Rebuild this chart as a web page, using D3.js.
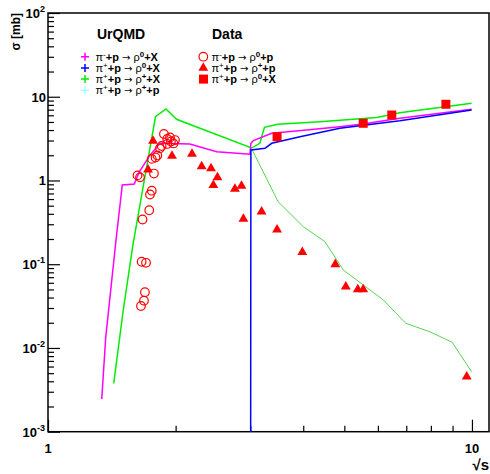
<!DOCTYPE html>
<html>
<head>
<meta charset="utf-8">
<script src="https://cdn.jsdelivr.net/npm/d3@7"></script>
<style>
  body { margin: 0; background: #fff; }
  text { font-family: "Liberation Sans", Arial, sans-serif; }
</style>
</head>
<body>
<svg id="chart" width="490" height="474"></svg>
<script>
// UrQMD curves: sqrt(s) in GeV, sigma in mb
var magentaS   = [1.339, 1.368, 1.447, 1.497, 1.598, 1.642, 1.74, 1.837, 2.16, 2.50, 2.995, 3.01, 3.05, 3.37, 4.07, 4.88, 5.53, 6.76, 9.98];
var magentaSig = [0.00246, 0.0133, 0.195, 0.883, 0.908, 1.27, 2.01, 2.78, 2.73, 2.21, 2.06, 2.78, 2.99, 3.66, 4.01, 4.39, 4.72, 5.52, 7.08];

var blueS   = [3.004, 3.01, 3.25, 3.37, 3.93, 4.88, 6.76, 9.98];
var blueSig = [0.00001, 2.31, 2.42, 2.78, 3.33, 4.20, 5.17, 6.95];

var greenS   = [1.429, 1.505, 1.586, 1.793, 1.898, 2.01, 3.02, 3.16, 3.24, 3.48, 4.38, 5.96, 6.76, 9.98];
var greenSig = [0.00378, 0.0284, 0.170, 5.78, 7.14, 5.38, 2.44, 2.78, 4.31, 4.69, 5.04, 5.65, 6.44, 8.35];

var paleS   = [3.02, 3.49, 4.00, 4.50, 4.97, 6.18, 6.98, 7.96, 8.98, 9.98];
var paleSig = [2.41, 0.558, 0.281, 0.186, 0.0853, 0.0374, 0.0197, 0.0156, 0.0117, 0.00521];

// Data points
var circS   = [1.877, 1.911, 1.940, 1.977, 1.911, 1.854, 1.837, 1.811, 1.793, 1.757, 1.778, 1.626, 1.648, 1.757, 1.740, 1.733, 1.671, 1.663, 1.703, 1.693, 1.684, 1.657, 1.993, 1.950];
var circSig = [3.59, 3.13, 3.26, 2.77, 2.73, 2.58, 2.42, 1.99, 1.88, 1.81, 1.21, 1.15, 1.09, 0.755, 0.680, 0.441, 0.342, 0.107, 0.104, 0.0463, 0.0367, 0.0317, 3.04, 2.92];

var triS   = [1.769, 1.722, 1.961, 2.186, 2.304, 2.424, 2.51, 2.455, 2.76, 2.86, 2.89, 3.19, 3.47, 3.98, 4.76, 5.04, 5.38, 5.54, 9.72];
var triSig = [2.96, 1.35, 1.96, 2.07, 1.47, 1.39, 1.09, 0.879, 0.791, 0.859, 0.347, 0.424, 0.258, 0.139, 0.0998, 0.054, 0.0501, 0.0501, 0.00454];

var sqS   = [3.47, 5.54, 6.47, 8.68];
var sqSig = [3.33, 4.82, 6.05, 8.13];

var yDecades = [1e-3, 1e-2, 1e-1, 1, 10, 100];
var yLabels  = [["10", "-3"], ["10", "-2"], ["10", "-1"], ["1", ""], ["10", ""], ["10", "2"]];

var svg = d3.select('#chart');
var padL = 48, padR = 489, padT = 13, padB = 431.7;

var x = d3.scaleLog().domain([1, 10.97]).range([padL, padR]);
var y = d3.scaleLog().domain([1e-3, 1e2]).range([padB, padT]);

function zip(a, b) { return a.map(function(v, i) { return [v, b[i]]; }); }

svg.append('clipPath').attr('id', 'clip')
  .append('rect').attr('x', padL).attr('y', padT)
  .attr('width', padR - padL).attr('height', padB - padT);

// Frame
svg.append('rect')
  .attr('x', padL).attr('y', padT)
  .attr('width', padR - padL).attr('height', padB - padT)
  .attr('fill', 'none').attr('stroke', '#000').attr('stroke-width', 1.5);

// Ticks (inward, ROOT style)
var xMinor = [2, 3, 4, 5, 6, 7, 8, 9];
svg.append('g').attr('transform', 'translate(0,' + padB + ')')
  .call(d3.axisBottom(x).tickValues(xMinor).tickSize(-6).tickFormat(''))
  .call(function(g) { g.select('.domain').remove(); });
svg.append('g').attr('transform', 'translate(0,' + padB + ')')
  .call(d3.axisBottom(x).tickValues([1, 10]).tickSize(-12).tickFormat(''))
  .call(function(g) { g.select('.domain').remove(); });

var yMinor = [];
yDecades.slice(0, 5).forEach(function(d) {
  for (var k = 2; k <= 9; k++) yMinor.push(d * k);
});
svg.append('g').attr('transform', 'translate(' + padL + ',0)')
  .call(d3.axisLeft(y).tickValues(yMinor).tickSize(-6).tickFormat(''))
  .call(function(g) { g.select('.domain').remove(); });
svg.append('g').attr('transform', 'translate(' + padL + ',0)')
  .call(d3.axisLeft(y).tickValues(yDecades).tickSize(-12).tickFormat(''))
  .call(function(g) { g.select('.domain').remove(); });
svg.selectAll('.tick line').attr('stroke', '#000').attr('stroke-width', 1.2);

// Tick labels
yDecades.forEach(function(d, i) {
  var t = svg.append('text')
    .attr('x', yLabels[i][1] ? 45 : 46).attr('y', y(d) + 5)
    .attr('text-anchor', 'end')
    .attr('font-size', 13).attr('font-weight', 'bold');
  t.append('tspan').text(yLabels[i][0]);
  if (yLabels[i][1]) t.append('tspan').attr('dy', -6).attr('font-size', 9).text(yLabels[i][1]);
});
[1, 10].forEach(function(d) {
  svg.append('text').attr('x', x(d)).attr('y', 453)
    .attr('text-anchor', 'middle')
    .attr('font-size', 13).attr('font-weight', 'bold').text(d);
});

// Axis titles
svg.append('text').attr('x', 489).attr('y', 470)
  .attr('text-anchor', 'end').attr('font-size', 15).attr('font-weight', 'bold')
  .text('\u221As');
svg.append('text')
  .attr('transform', 'translate(20,13) rotate(-90)')
  .attr('text-anchor', 'end').attr('font-size', 12).attr('font-weight', 'bold')
  .text('\u03C3 [mb]');

// Curves
var line = d3.line().x(function(d) { return x(d[0]); }).y(function(d) { return y(d[1]); });
var plot = svg.append('g').attr('clip-path', 'url(#clip)');

plot.append('path').attr('d', line(zip(paleS, paleSig)))
  .attr('fill', 'none').attr('stroke', '#59d454').attr('stroke-width', 1);
plot.append('path').attr('d', line(zip(greenS, greenSig)))
  .attr('fill', 'none').attr('stroke', '#00ee00').attr('stroke-width', 1.5);
plot.append('path').attr('d', line(zip(magentaS, magentaSig)))
  .attr('fill', 'none').attr('stroke', '#ff00ff').attr('stroke-width', 1.5);
plot.append('path').attr('d', line(zip(blueS, blueSig)))
  .attr('fill', 'none').attr('stroke', '#0000ff').attr('stroke-width', 1.5);

// Data markers
plot.selectAll('circle.open').data(zip(circS, circSig)).enter()
  .append('circle').attr('class', 'open')
  .attr('cx', function(d) { return x(d[0]); })
  .attr('cy', function(d) { return y(d[1]); })
  .attr('r', 4.3).attr('fill', 'none').attr('stroke', '#ff0000').attr('stroke-width', 1.2);

var tri = d3.symbol().type(d3.symbolTriangle).size(42);
plot.selectAll('path.tri').data(zip(triS, triSig)).enter()
  .append('path').attr('class', 'tri')
  .attr('d', tri)
  .attr('transform', function(d) { return 'translate(' + x(d[0]) + ',' + y(d[1]) + ')'; })
  .attr('fill', '#ff0000');

plot.selectAll('rect.sq').data(zip(sqS, sqSig)).enter()
  .append('rect').attr('class', 'sq')
  .attr('x', function(d) { return x(d[0]) - 4.5; })
  .attr('y', function(d) { return y(d[1]) - 4.5; })
  .attr('width', 9).attr('height', 9).attr('fill', '#ff0000');

// Legend
svg.append('text').attr('x', 97).attr('y', 39)
  .attr('font-size', 14).attr('font-weight', 'bold').text('UrQMD');
svg.append('text').attr('x', 212).attr('y', 39)
  .attr('font-size', 14).attr('font-weight', 'bold').text('Data');

function reaction(g, tx, ty, piCharge, rhoCharge, fin) {
  var t = g.append('text').attr('x', tx).attr('y', ty).attr('font-size', 11);
  t.append('tspan').text('\u03C0');
  t.append('tspan').attr('dy', -4).attr('font-size', 8).text(piCharge);
  t.append('tspan').attr('dy', 4).attr('font-weight', 'bold').text('+p ');
  t.append('tspan').style('font-family', 'DejaVu Sans').attr('font-size', 10).text('\u2192');
  t.append('tspan').text(' \u03C1');
  t.append('tspan').attr('dy', -4).attr('font-size', 8).attr('font-weight', 'bold').text(rhoCharge);
  t.append('tspan').attr('dy', 4).attr('font-weight', 'bold').text('+' + fin);
}

var urLeg = [
  { c: '#ff00ff', pi: '-', rho: '0', f: 'X' },
  { c: '#0000ff', pi: '+', rho: '0', f: 'X' },
  { c: '#00ee00', pi: '+', rho: '+', f: 'X' },
  { c: '#a8ffff', pi: '+', rho: '+', f: 'p' }
];
var leg = svg.append('g');
urLeg.forEach(function(e, i) {
  var cy = 56.7 + i * 11.2;
  leg.append('path').attr('d', 'M81,' + cy + 'H89M85,' + (cy - 4) + 'V' + (cy + 4))
    .attr('stroke', e.c).attr('stroke-width', 1.5);
  reaction(leg, 95.5, cy + 4, e.pi, e.rho, e.f);
});

var dataLeg = [
  { kind: 'circle', pi: '-', rho: '0', f: 'p' },
  { kind: 'tri', pi: '+', rho: '+', f: 'p' },
  { kind: 'sq', pi: '+', rho: '0', f: 'X' }
];
dataLeg.forEach(function(e, i) {
  var cy = 56.7 + i * 11.2;
  if (e.kind === 'circle') {
    leg.append('circle').attr('cx', 203.3).attr('cy', cy).attr('r', 4.3)
      .attr('fill', 'none').attr('stroke', '#ff0000').attr('stroke-width', 1.2);
  } else if (e.kind === 'tri') {
    leg.append('path').attr('d', tri).attr('transform', 'translate(203.3,' + cy + ')').attr('fill', '#ff0000');
  } else {
    leg.append('rect').attr('x', 199).attr('y', cy - 4.5).attr('width', 9).attr('height', 9).attr('fill', '#ff0000');
  }
  reaction(leg, 211.5, cy + 4, e.pi, e.rho, e.f);
});
</script>
</body>
</html>
